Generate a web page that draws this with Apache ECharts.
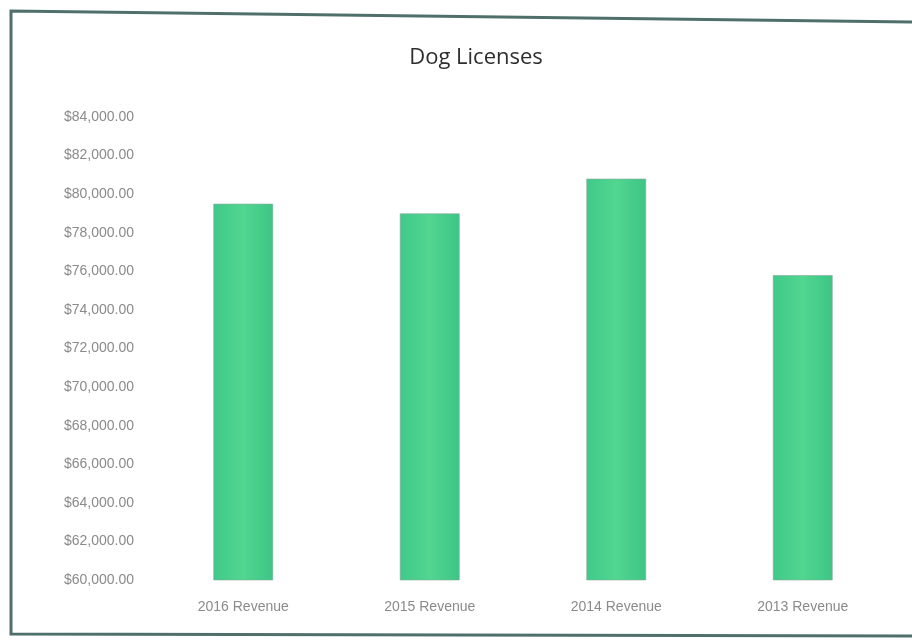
<!DOCTYPE html>
<html>
<head>
<meta charset="utf-8">
<style>html,body{margin:0;padding:0;background:#fff;}#c{width:912px;height:640px;}</style>
<script src="https://cdn.jsdelivr.net/npm/echarts@6/dist/echarts.min.js"></script>
</head>
<body>
<div id="c"></div>
<script>
const titleText = 'Dog Licenses';
const categories = ['2016 Revenue', '2015 Revenue', '2014 Revenue', '2013 Revenue'];
const revenue = [79500, 79000, 80800, 75800];
const yMin = 60000, yMax = 84000, yStep = 2000;

const chart = echarts.init(document.getElementById('c'), null, {renderer: 'canvas'});
chart.setOption({
  backgroundColor: '#fff',
  animation: false,
  title: {
    text: titleText, left: 471, top: 42, textAlign: 'center',
    textStyle: {fontFamily: 'Open Sans', fontSize: 22, fontWeight: 'normal', color: '#2e2e2e'}
  },
  grid: {left: 150, right: 16, top: 117, bottom: 60},
  xAxis: {
    type: 'category', data: categories,
    axisLine: {show: false}, axisTick: {show: false},
    axisLabel: {margin: 20, fontFamily: 'Liberation Sans', fontSize: 14, color: '#8a8a8a'}
  },
  yAxis: {
    type: 'value', min: yMin, max: yMax, interval: yStep,
    splitLine: {show: false}, axisLine: {show: false}, axisTick: {show: false},
    axisLabel: {
      margin: 16, fontFamily: 'Liberation Sans', fontSize: 14, color: '#8a8a8a',
      formatter: v => '$' + v.toLocaleString('en-US', {minimumFractionDigits: 2, maximumFractionDigits: 2})
    }
  },
  series: [{
    type: 'bar', data: revenue, barWidth: '32%',
    itemStyle: {
      color: new echarts.graphic.LinearGradient(0, 0, 1, 0, [
        {offset: 0, color: '#3fc98a'}, {offset: 0.5, color: '#52d690'}, {offset: 1, color: '#3cc585'}
      ]),
      borderColor: '#8aa79a', borderWidth: 0.6
    }
  }],
  graphic: [{
    type: 'polyline', silent: true,
    shape: {points: [[912, 22], [11, 11], [11, 634], [912, 636]]},
    style: {stroke: '#4f6f6b', lineWidth: 3, fill: null}
  }]
});
</script>
</body>
</html>
